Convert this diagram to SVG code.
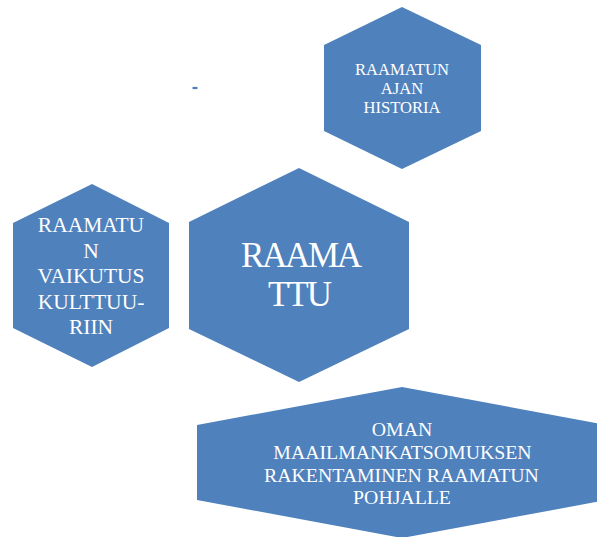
<svg xmlns="http://www.w3.org/2000/svg" width="597" height="537" viewBox="0 0 597 537">
<style>
.hex{fill:#4F81BD;}
.t{font-family:"Liberation Serif","DejaVu Serif",serif;fill:#FFFFFF;text-anchor:middle;}
</style>
<rect width="597" height="537" fill="#FFFFFF"/>
<ellipse cx="195" cy="88" rx="2.8" ry="1.3" fill="#4F81BD"/>
<g id="historia">
<polygon class="hex" points="402,7 481,45 481,131 402,169 324,131 324,45"/>
<text class="t" font-size="16.6" x="402" y="75">RAAMATUN</text>
<text class="t" font-size="16.6" x="402" y="94.3">AJAN</text>
<text class="t" font-size="16.6" x="402" y="113.3">HISTORIA</text>
</g>
<g id="vaikutus">
<polygon class="hex" points="92,184 169,223 169,328 92,367 13,328 13,223"/>
<text class="t" font-size="21.5" x="91" y="232.3">RAAMATU</text>
<text class="t" font-size="21.5" x="91" y="257.7">N</text>
<text class="t" font-size="21.5" x="91" y="283.3">VAIKUTUS</text>
<text class="t" font-size="21.5" x="91" y="309">KULTTUU-</text>
<text class="t" font-size="21.5" x="91" y="334">RIIN</text>
</g>
<g id="raamattu">
<polygon class="hex" points="299,168 409,222 409,329 299,382 189,329 189,222"/>
<text class="t" font-size="35" x="301.5" y="266.7" textLength="121">RAAMA</text>
<text class="t" font-size="35" x="300" y="306" textLength="64">TTU</text>
</g>
<g id="maailmankatsomus">
<polygon class="hex" points="402,387 607,425 607,500 402,538 197,500 197,425"/>
<text class="t" font-size="19.8" x="402" y="436">OMAN</text>
<text class="t" font-size="19.8" x="402.5" y="459.3">MAAILMANKATSOMUKSEN</text>
<text class="t" font-size="19.8" x="401.5" y="481.7">RAKENTAMINEN RAAMATUN</text>
<text class="t" font-size="19.8" x="402" y="504">POHJALLE</text>
</g>
<g id="connectors"/>
</svg>
